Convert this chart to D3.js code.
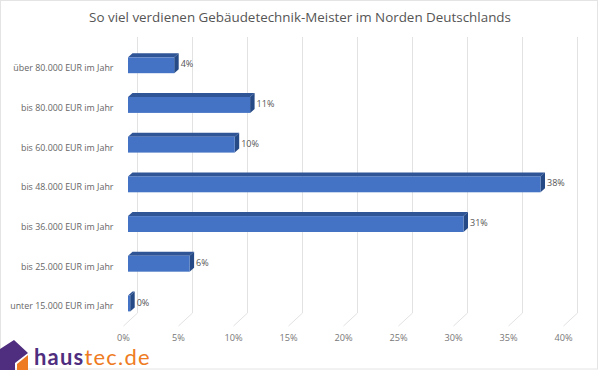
<!DOCTYPE html>
<html>
<head>
<meta charset="utf-8">
<script src="https://cdn.jsdelivr.net/npm/d3@7"></script>
<style>
  html, body { margin: 0; padding: 0; background: #fff; }
  text { font-family: "Open Sans", sans-serif; }
</style>
</head>
<body>
<div id="chart"></div>
<script>
// Top bar first
const categories = [
    'über 80.000 EUR im Jahr',
    'bis 80.000 EUR im Jahr',
    'bis 60.000 EUR im Jahr',
    'bis 48.000 EUR im Jahr',
    'bis 36.000 EUR im Jahr',
    'bis 25.000 EUR im Jahr',
    'unter 15.000 EUR im Jahr'
];
const values = [4.2, 11.1, 9.7, 37.5, 30.5, 5.6, 0.2];
const valueLabels = ['4%', '11%', '10%', '38%', '31%', '6%', '0%'];
const xTicks = [0, 5, 10, 15, 20, 25, 30, 35, 40];

const width = 600;
const height = 370;
const depth = { x: 4.5, y: 4 };

const svg = d3.select('#chart').append('svg')
    .attr('width', width)
    .attr('height', height)
    .style('display', 'block');

// Frame
svg.append('rect')
    .attr('x', 0.5).attr('y', 0.5)
    .attr('width', 597).attr('height', 368.5)
    .attr('fill', '#fff').attr('stroke', '#e4e4e4');

// Title
svg.append('text')
    .attr('x', 300).attr('y', 22)
    .attr('text-anchor', 'middle')
    .attr('font-size', 13.4)
    .attr('fill', '#555')
    .text('So viel verdienen Gebäudetechnik-Meister im Norden Deutschlands');

// Scales: front plane of the 3D plot
const xScale = d3.scaleLinear().domain([0, 40]).range([128, 568]);
const yScale = d3.scaleBand()
    .domain(categories)
    .range([33.5, 335.2])
    .padding(0.6);

// Gridlines on the back wall, then the step down to the floor
const grid = svg.append('g').attr('fill', 'none').attr('stroke', '#e2e2e2');
grid.selectAll('path')
    .data(xTicks)
    .enter().append('path')
    .attr('d', d => {
        const x = xScale(d) + 9.5;
        return `M${x},37V313L${x - 14},326`;
    });

// X axis labels
svg.append('g')
    .attr('font-size', 9.2)
    .attr('fill', '#777')
    .selectAll('text')
    .data(xTicks)
    .enter().append('text')
    .attr('x', d => xScale(d) - 4.5)
    .attr('y', 341)
    .attr('text-anchor', 'middle')
    .text(d => d + '%');

// Category labels
svg.append('g')
    .attr('font-size', 8.9)
    .attr('fill', '#666')
    .selectAll('text')
    .data(categories)
    .enter().append('text')
    .attr('x', 113.5)
    .attr('y', d => yScale(d) + yScale.bandwidth() / 2 + 6)
    .attr('text-anchor', 'end')
    .text(d => d);

// Bars: top face, side face, front face
const rows = categories.map((c, i) => ({ c, v: values[i], label: valueLabels[i] }));
const bars = svg.append('g').selectAll('g').data(rows).enter().append('g');

bars.append('path')
    .attr('fill', '#2f5597')
    .attr('d', d => {
        const x0 = xScale(0), x1 = xScale(d.v), y = yScale(d.c);
        return `M${x0},${y}L${x0 + depth.x},${y - depth.y}H${x1 + depth.x}L${x1},${y}Z`;
    });

bars.append('path')
    .attr('fill', '#264a86')
    .attr('d', d => {
        const x1 = xScale(d.v), y = yScale(d.c), h = yScale.bandwidth();
        return `M${x1},${y}L${x1 + depth.x},${y - depth.y}V${y + h - depth.y}L${x1},${y + h}Z`;
    });

bars.append('rect')
    .attr('x', xScale(0))
    .attr('y', d => yScale(d.c))
    .attr('width', d => xScale(d.v) - xScale(0))
    .attr('height', yScale.bandwidth())
    .attr('fill', '#4472c4');

// Value labels
bars.append('text')
    .attr('x', d => xScale(d.v) + 6.5)
    .attr('y', d => yScale(d.c) + 10)
    .attr('font-size', 9)
    .attr('fill', '#555')
    .text(d => d.label);

// Logo
const logo = svg.append('g');
logo.append('path')
    .attr('fill', '#4f2d7f')
    .attr('d', 'M0,349L14,340L28,353L15,363V370H0Z');
logo.append('path')
    .attr('fill', '#ee7b22')
    .attr('d', 'M17,370V364L28,355V370Z');
const logoText = logo.append('text')
    .attr('x', 34).attr('y', 365)
    .attr('font-size', 22)
    .style('font-family', 'Lato, sans-serif')
    .attr('letter-spacing', 1.2);
logoText.append('tspan').attr('fill', '#4f2d7f').attr('font-weight', 700).text('haus');
logoText.append('tspan').attr('fill', '#ee7b22').attr('font-weight', 400).text('tec.de');
</script>
</body>
</html>
